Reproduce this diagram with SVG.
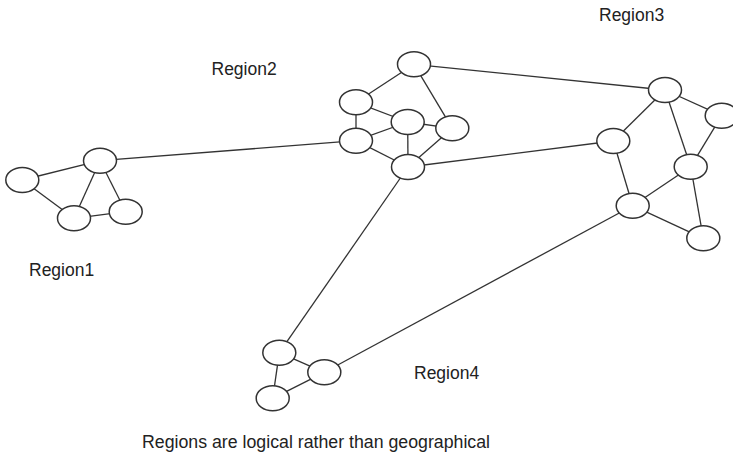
<svg xmlns="http://www.w3.org/2000/svg" width="733" height="455" viewBox="0 0 733 455">
  <style>
    .edge { stroke: #333; stroke-width: 1.3; fill: none; }
    .node use { fill: #fff; stroke: #333; stroke-width: 1.5; }
    .label { font-family: "Liberation Sans", Arial, sans-serif; font-size: 17.5px; fill: #222; }
  </style>
  <defs>
    <ellipse id="n" cx="0" cy="0" rx="16.5" ry="12.5"/>
  </defs>
  <rect width="733" height="455" fill="#fff"/>

  <!-- connectors (drawn under the nodes) -->
  <g id="connectors" class="edge">
    <!-- Region1 -->
    <line x1="22.3" y1="180" x2="100" y2="160.7"/>
    <line x1="22.3" y1="180" x2="74" y2="218.3"/>
    <line x1="100" y1="160.7" x2="74" y2="218.3"/>
    <line x1="100" y1="160.7" x2="125.7" y2="211.7"/>
    <line x1="74" y1="218.3" x2="125.7" y2="211.7"/>
    <!-- Region2 -->
    <line x1="414" y1="64.3" x2="356" y2="102.3"/>
    <line x1="414" y1="64.3" x2="452.3" y2="128.3"/>
    <line x1="356" y1="102.3" x2="407.7" y2="122"/>
    <line x1="356" y1="102.3" x2="356" y2="140.7"/>
    <line x1="356" y1="140.7" x2="407.7" y2="122"/>
    <line x1="407.7" y1="122" x2="408" y2="167"/>
    <line x1="452.3" y1="128.3" x2="407.7" y2="122"/>
    <line x1="452.3" y1="128.3" x2="408" y2="167"/>
    <line x1="356" y1="140.7" x2="408" y2="167"/>
    <!-- Region3 -->
    <line x1="665" y1="90" x2="721.7" y2="115.7"/>
    <line x1="665" y1="90" x2="613.3" y2="141"/>
    <line x1="665" y1="90" x2="690.7" y2="166.7"/>
    <line x1="721.7" y1="115.7" x2="690.7" y2="166.7"/>
    <line x1="613.3" y1="141" x2="632.7" y2="205.7"/>
    <line x1="690.7" y1="166.7" x2="632.7" y2="205.7"/>
    <line x1="690.7" y1="166.7" x2="703.3" y2="238.3"/>
    <line x1="632.7" y1="205.7" x2="703.3" y2="238.3"/>
    <!-- Region4 -->
    <line x1="279.3" y1="352.7" x2="324.3" y2="372.3"/>
    <line x1="279.3" y1="352.7" x2="272.7" y2="398.3"/>
    <line x1="324.3" y1="372.3" x2="272.7" y2="398.3"/>
    <!-- links between regions -->
    <line x1="100" y1="160.7" x2="356" y2="140.7"/>
    <line x1="414" y1="64.3" x2="665" y2="90"/>
    <line x1="408" y1="167" x2="613.3" y2="141"/>
    <line x1="408" y1="167" x2="279.3" y2="352.7"/>
    <line x1="632.7" y1="205.7" x2="324.3" y2="372.3"/>
  </g>

  <!-- Region1 nodes -->
  <g id="r1-a" class="node"><use href="#n" x="22.3" y="180"/></g>
  <g id="r1-b" class="node"><use href="#n" x="100" y="160.7"/></g>
  <g id="r1-c" class="node"><use href="#n" x="74" y="218.3"/></g>
  <g id="r1-d" class="node"><use href="#n" x="125.7" y="211.7"/></g>

  <!-- Region2 nodes -->
  <g id="r2-top" class="node"><use href="#n" x="414" y="64.3"/></g>
  <g id="r2-upper-left" class="node"><use href="#n" x="356" y="102.3"/></g>
  <g id="r2-middle" class="node"><use href="#n" x="407.7" y="122"/></g>
  <g id="r2-right" class="node"><use href="#n" x="452.3" y="128.3"/></g>
  <g id="r2-lower-left" class="node"><use href="#n" x="356" y="140.7"/></g>
  <g id="r2-bottom" class="node"><use href="#n" x="408" y="167"/></g>

  <!-- Region3 nodes -->
  <g id="r3-top" class="node"><use href="#n" x="665" y="90"/></g>
  <g id="r3-right" class="node"><use href="#n" x="721.7" y="115.7"/></g>
  <g id="r3-left" class="node"><use href="#n" x="613.3" y="141"/></g>
  <g id="r3-middle" class="node"><use href="#n" x="690.7" y="166.7"/></g>
  <g id="r3-lower-left" class="node"><use href="#n" x="632.7" y="205.7"/></g>
  <g id="r3-lower-right" class="node"><use href="#n" x="703.3" y="238.3"/></g>

  <!-- Region4 nodes -->
  <g id="r4-top" class="node"><use href="#n" x="279.3" y="352.7"/></g>
  <g id="r4-right" class="node"><use href="#n" x="324.3" y="372.3"/></g>
  <g id="r4-bottom" class="node"><use href="#n" x="272.7" y="398.3"/></g>

  <!-- labels -->
  <g id="labels">
    <text class="label" x="29" y="275.7">Region1</text>
    <text class="label" x="211.5" y="75">Region2</text>
    <text class="label" x="599" y="20.7">Region3</text>
    <text class="label" x="414" y="378.7">Region4</text>
    <text class="label" x="142" y="448" textLength="348" lengthAdjust="spacingAndGlyphs">Regions are logical rather than geographical</text>
  </g>
</svg>
